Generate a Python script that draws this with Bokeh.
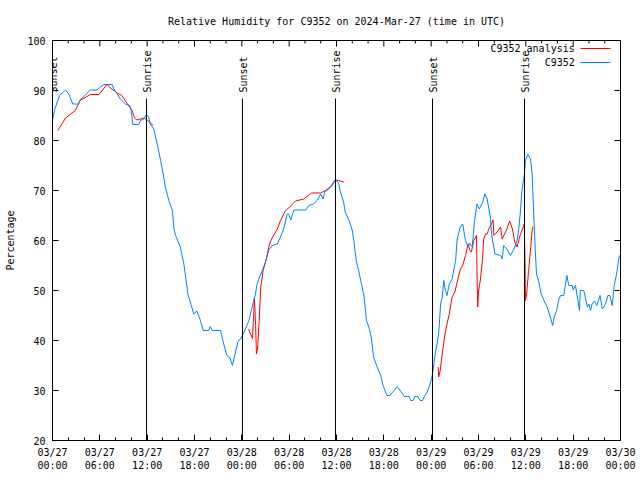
import math
from bokeh.plotting import figure
from bokeh.models import (Range1d, FixedTicker, Label, Arrow,
                          ColumnDataSource, LabelSet)
from bokeh.core.properties import value
from bokeh.embed import file_html
from bokeh.resources import INLINE

NaN = float("nan")

title_text = "Relative Humidity for C9352 on 2024-Mar-27 (time in UTC)"
y_label = "Percentage"
series_names = ["C9352 analysis", "C9352"]

# hours since 2024-03-27 00:00 UTC, relative humidity (%)
obs_hours = [0.0, 0.3, 0.9, 1.65, 2.07, 2.57, 3.3, 3.5, 4.1, 4.8, 5.65, 6.08, 6.5, 7.57,
             7.77, 8.2, 8.6, 9.25, 9.8, 9.97, 10.18, 10.95, 11.15, 11.57, 11.9, 12.2,
             12.4, 12.84, 13.27, 13.7, 14.1, 14.3, 14.75, 15.2, 15.4, 15.6, 16.2, 16.65,
             17.0, 17.15, 17.6, 17.9, 18.3, 18.75, 19.1, 19.8, 20.0, 20.25, 21.3, 21.7,
             22.1, 22.5, 22.8, 23.2, 23.5, 24.0, 24.5, 24.9, 25.2, 25.5, 25.7, 25.9,
             26.15, 26.6, 27.0, 27.4, 27.85, 28.5, 28.9, 29.3, 29.75, 29.95, 30.2, 30.6,
             32.1, 32.5, 33.1, 33.55, 34.0, 34.3, 34.5, 35.0, 35.45, 35.9, 36.3, 36.5,
             36.9, 37.1, 37.6, 38.0, 38.2, 38.5, 38.8, 39.25, 39.5, 39.8, 40.1, 40.4,
             40.7, 41.15, 41.6, 41.9, 42.4, 42.75, 43.3, 43.7, 44.2, 44.6, 45.2, 45.4,
             45.7, 45.9, 46.3, 46.6, 46.9, 47.15, 47.5, 47.8, 48.1, 48.3, 48.5, 48.75,
             48.95, 49.2, 49.4, 49.6, 49.8, 50.0, 50.3, 50.65, 51.1, 51.3, 51.7, 52.0,
             52.35, 52.7, 52.85, 53.2, 53.5, 53.8, 54.1, 54.55, 54.8, 55.1, 55.5, 55.7,
             56.1, 56.8, 57.0, 57.2, 57.6, 58.05, 58.5, 58.9, 59.1, 59.3, 59.5, 59.8,
             59.95, 60.25, 60.6, 60.8, 61.0, 61.2, 61.35, 61.6, 61.95, 62.3, 62.7, 63.1,
             63.4, 63.6, 63.9, 64.2, 64.4, 64.8, 65.0, 65.2, 65.45, 65.9, 66.0, 66.3,
             66.6, 66.8, 66.9, 67.35, 67.8, 68.0, 68.2, 68.4, 68.7, 69.0, 69.4, 69.7,
             70.1, 70.4, 70.65, 70.95, 71.2, 71.5, 71.85]
obs_rh = [84.1, 86.3, 89.0, 90.1, 89.3, 87.3, 87.3, 88.1, 89.0, 90.1, 90.1, 90.7, 91.2, 91.2,
          90.3, 89.3, 88.3, 87.3, 87.0, 86.0, 83.2, 83.2, 84.0, 84.3, 85.2, 84.7,
          83.3, 82.3, 79.3, 76.0, 72.7, 70.7, 68.0, 66.0, 62.3, 61.0, 58.7, 55.3,
          51.3, 49.3, 47.0, 45.3, 45.9, 44.0, 42.0, 42.0, 42.8, 42.0, 42.0, 39.3,
          37.0, 36.5, 35.0, 37.7, 39.7, 40.7, 42.5, 44.0, 46.0, 48.0, 49.0, 51.0,
          52.3, 54.0, 55.7, 58.0, 59.0, 59.3, 60.7, 62.3, 65.3, 65.3, 64.1, 66.1,
          66.1, 67.0, 67.3, 68.0, 69.3, 68.3, 69.7, 70.3, 71.0, 72.3, 71.3, 69.7,
          67.7, 65.7, 64.0, 62.0, 60.0, 56.0, 54.0, 50.7, 48.7, 44.0, 42.7, 40.7,
          36.7, 34.7, 33.0, 31.0, 29.0, 29.0, 30.0, 30.8, 29.7, 28.8, 28.8, 28.0,
          28.0, 28.8, 28.8, 28.0, 28.0, 28.8, 29.7, 31.0, 32.7, 34.7, 37.3, 39.3,
          41.3, 47.3, 48.7, 52.0, 50.0, 49.0, 51.3, 52.3, 56.0, 60.3, 62.7, 63.3,
          60.0, 58.7, 59.5, 58.7, 64.0, 67.3, 66.3, 67.7, 69.3, 68.3, 64.7, 60.7,
          57.3, 57.0, 56.3, 59.0, 58.3, 57.0, 58.3, 60.0, 62.3, 65.5, 70.0, 73.0,
          76.0, 77.2, 76.3, 73.3, 65.3, 58.0, 53.3, 52.0, 49.3, 48.0, 46.7, 44.7,
          43.0, 44.7, 46.0, 48.3, 49.0, 49.0, 51.0, 53.0, 51.0, 51.0, 50.1, 51.0,
          48.0, 46.0, 50.0, 50.0, 46.7, 47.3, 46.0, 47.3, 47.9, 47.0, 49.0, 46.3,
          47.3, 49.0, 49.0, 47.0, 51.0, 53.3, 57.0]

ana_hours = [0.67, 1.65, 2.9, 3.5, 4.8, 5.9, 6.9, 7.35, 8.2, 8.8, 9.5, 10.1, 10.4, 10.7,
             11.6, 12.0, 12.76,
             NaN,
             24.85, 25.35, 25.6, 25.75, 25.85, 26.0, 26.2, 26.4, 26.7, 27.1, 27.5, 27.9,
             28.5, 28.9, 29.53, 29.95, 30.8, 31.85, 32.83, 33.97, 34.6, 35.23, 35.78,
             36.29, 36.92,
             NaN,
             48.89, 48.95, 49.15, 49.4, 49.7, 50.0, 50.3, 50.65, 51.0, 51.3, 51.7, 52.0,
             52.35, 52.7, 52.9, 53.1, 53.4, 53.75, 53.8, 53.9, 54.0, 54.25, 54.5, 54.65,
             54.9, 55.1, 55.3, 55.65, 55.85, 55.95, 56.35, 56.8, 57.0, 57.3, 57.6, 57.95,
             58.3, 58.6, 58.9, 59.2, 59.5, 59.8, 59.9, 59.95, 60.1, 60.35, 60.6, 60.8,
             60.9]
ana_rh = [82.0, 84.5, 86.0, 88.0, 89.2, 89.2, 91.2, 90.5, 89.5, 89.0, 87.3, 86.0, 84.5, 84.1,
          84.5, 84.1, 83.0,
          NaN,
          42.3, 40.4, 48.5, 43.0, 37.3, 38.5, 44.0, 50.7, 54.0, 56.3, 59.3, 60.7,
          62.3, 64.0, 66.0, 66.5, 67.9, 68.3, 69.5, 69.5, 70.0, 70.7, 72.0,
          72.0, 71.7,
          NaN,
          34.7, 32.7, 34.0, 37.3, 40.7, 43.3, 45.3, 48.7, 49.7, 51.7, 54.3, 55.0,
          57.0, 59.3, 58.0, 57.7, 60.0, 61.0, 54.0, 46.7, 49.7, 52.3, 56.0, 60.3,
          61.3, 61.3, 62.3, 63.3, 64.1, 61.0, 61.7, 62.7, 60.3, 61.3, 62.3, 63.9,
          62.3, 59.7, 58.7, 60.7, 62.0, 63.3, 55.7, 48.0, 49.3, 54.0, 58.3, 62.0,
          62.8]

sun_hours = [0.0, 11.92, 24.08, 35.87, 48.17, 59.83]
sun_labels = ["Sunset", "Sunrise", "Sunset", "Sunrise", "Sunset", "Sunrise"]

tick_hours = [0, 6, 12, 18, 24, 30, 36, 42, 48, 54, 60, 66, 72]
tick_labels = ["03/27\n00:00", "03/27\n06:00", "03/27\n12:00", "03/27\n18:00",
               "03/28\n00:00", "03/28\n06:00", "03/28\n12:00", "03/28\n18:00",
               "03/29\n00:00", "03/29\n06:00", "03/29\n12:00", "03/29\n18:00",
               "03/30\n00:00"]
minor_hours = list(range(0, 73, 2))
y_ticks = [20, 30, 40, 50, 60, 70, 80, 90, 100]

FONT = "DejaVu Sans Mono"
FS = "10px"
RED = "#ff0000"
BLUE = "#0080ff"
X0, X1, Y0, Y1 = 0, 72, 20, 100

p = figure(width=640, height=480, output_backend="svg", toolbar_location=None,
           x_range=Range1d(X0, X1), y_range=Range1d(Y0, Y1),
           min_border_left=52, min_border_right=20, min_border_top=40,
           min_border_bottom=40, title=title_text)
p.background_fill_color = "white"
p.border_fill_color = "white"
p.outline_line_color = "black"
p.xgrid.visible = False
p.ygrid.visible = False

p.title.text_font = FONT
p.title.text_font_size = FS
p.title.text_font_style = "normal"
p.title.text_color = "black"
p.title.align = "center"
p.title.vertical_align = "middle"
p.title.standoff = 26

xa = p.xaxis[0]
xa.ticker = FixedTicker(ticks=tick_hours, minor_ticks=minor_hours)
xa.major_label_overrides = {h: lab for h, lab in zip(tick_hours, tick_labels)}
xa.major_tick_in = 6
xa.major_tick_out = 0
xa.minor_tick_in = 3
xa.minor_tick_out = 0
xa.major_label_standoff = 6
xa.major_label_text_font = FONT
xa.major_label_text_font_size = FS
xa.major_label_text_color = "black"
xa.axis_line_color = "black"
xa.major_tick_line_color = "black"
xa.minor_tick_line_color = "black"

ya = p.yaxis[0]
ya.ticker = FixedTicker(ticks=y_ticks, minor_ticks=[])
ya.major_tick_in = 6
ya.major_tick_out = 0
ya.minor_tick_line_color = None
ya.major_tick_line_color = "black"
ya.major_label_standoff = 7
ya.major_label_text_font = FONT
ya.major_label_text_font_size = FS
ya.major_label_text_color = "black"
ya.axis_line_color = "black"
ya.axis_label = y_label
ya.axis_label_text_font = FONT
ya.axis_label_text_font_size = FS
ya.axis_label_text_font_style = "normal"
ya.axis_label_text_color = "black"
ya.axis_label_standoff = 8

# mirrored ticks on top and right borders (gnuplot style)
TICK_X = 6 / 7.889   # 6 px in hours
TICK_Y = 6 / 5.0     # 6 px in %
MINOR_Y = 3 / 5.0
maj = set(tick_hours)
mins = [h for h in minor_hours if h not in maj]
p.segment(x0=tick_hours, y0=[Y1] * len(tick_hours), x1=tick_hours,
          y1=[Y1 - TICK_Y] * len(tick_hours), line_color="black", line_width=1)
p.segment(x0=mins, y0=[Y1] * len(mins), x1=mins, y1=[Y1 - MINOR_Y] * len(mins),
          line_color="black", line_width=1)
p.segment(x0=[X1] * len(y_ticks), y0=y_ticks, x1=[X1 - TICK_X] * len(y_ticks),
          y1=y_ticks, line_color="black", line_width=1)

# data
p.line(ana_hours, ana_rh, line_color=RED, line_width=1)
p.line(obs_hours, obs_rh, line_color=BLUE, line_width=1)

# sunrise / sunset markers
n = len(sun_hours)
line_top = 88.4
p.segment(x0=sun_hours, y0=[Y0] * n, x1=sun_hours, y1=[line_top] * n,
          line_color="black", line_width=1)
src = ColumnDataSource(dict(x=sun_hours, y=[89.6] * n, t=sun_labels))
p.add_layout(LabelSet(x="x", y="y", text="t", source=src, angle=math.pi / 2,
                      text_align="left", text_baseline="middle", x_offset=1,
                      text_font=value(FONT), text_font_size=value(FS),
                      text_color=value("black")))

# legend (gnuplot style: text then sample line)
leg_x_text = 66.2
leg_x0, leg_x1 = 66.93, 70.73
for name, col, yy in zip(series_names, [RED, BLUE], [98.4, 95.6]):
    p.add_layout(Label(x=leg_x_text, y=yy, text=name, text_align="right",
                       text_baseline="middle", text_font=FONT,
                       text_font_size=FS, text_color="black"))
    p.add_layout(Arrow(end=None, x_start=leg_x0, y_start=yy, x_end=leg_x1, y_end=yy,
                       line_color=col, line_width=1))

open("out.html", "w").write(file_html(p, INLINE))
